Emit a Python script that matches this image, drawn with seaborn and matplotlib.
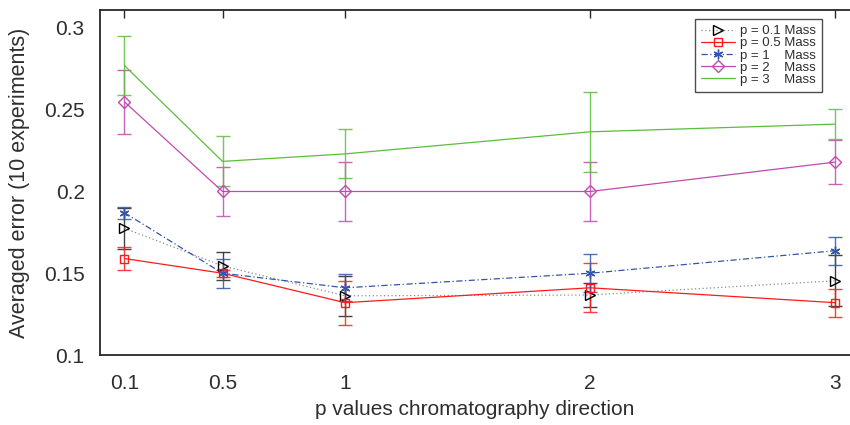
import numpy as np
import pandas as pd
import matplotlib
matplotlib.use("Agg")
import matplotlib.pyplot as plt
import seaborn as sns

# p values along the chromatography direction (x axis)
p_dir = [0.1, 0.5, 1, 2, 3]
x_ticklabels = ["0.1", "0.5", "1", "2", "3"]
y_ticks = [0.1, 0.15, 0.2, 0.25, 0.3]
y_ticklabels = ["0.1", "0.15", "0.2", "0.25", "0.3"]

series_labels = ["p = 0.1 Mass", "p = 0.5 Mass", "p = 1    Mass", "p = 2    Mass", "p = 3    Mass"]

# averaged error (10 experiments) and its spread for each mass p
err_p01 = [0.1775, 0.1545, 0.1362, 0.1367, 0.1454]
spread_p01 = [0.0125, 0.0085, 0.0124, 0.0072, 0.0155]

err_p05 = [0.1590, 0.1500, 0.1320, 0.1411, 0.1320]
spread_p05 = [0.0072, 0.0020, 0.0135, 0.0150, 0.0085]

err_p1 = [0.1870, 0.1500, 0.1411, 0.1500, 0.1638]
spread_p1 = [0.0037, 0.0090, 0.0082, 0.0117, 0.0085]

err_p2 = [0.2548, 0.2000, 0.2000, 0.2000, 0.2180]
spread_p2 = [0.0197, 0.0152, 0.0180, 0.0183, 0.0137]

err_p3 = [0.2770, 0.2184, 0.2230, 0.2365, 0.2412]
spread_p3 = [0.0182, 0.0153, 0.0150, 0.0245, 0.0090]

means = [err_p01, err_p05, err_p1, err_p2, err_p3]
spreads = [spread_p01, spread_p05, spread_p1, spread_p2, spread_p3]

colors = ["#000000", "#ff1a1a", "#3355aa", "#c04aae", "#5cbd3c"]
line_colors = ["#8c8c8c", "#ff1a1a", "#3355aa", "#c04aae", "#5cbd3c"]
markers = [">", "s", (6, 2, 0), "D", None]
dashes = [(1, 2), "", (5, 2, 1, 2), "", ""]
msizes = [7, 6, 7, 6, 0]

rows = []
for lab, m in zip(series_labels, means):
    for xv, yv in zip(p_dir, m):
        rows.append({"p": xv, "err": yv, "series": lab})
df = pd.DataFrame(rows)

sns.set_theme(style="white")
plt.rcParams["font.family"] = ["Liberation Sans", "DejaVu Sans"]

text_color = "#2e2e2e"

fig = plt.figure(figsize=(8.5, 4.25), dpi=100)
ax = fig.add_axes([0.1176, 0.1647, 0.8824, 0.8118])

for i, lab in enumerate(series_labels):
    sub = df[df["series"] == lab]
    # error bars in the series colour
    ax.errorbar(p_dir, means[i], yerr=spreads[i], fmt="none",
                ecolor=colors[i] if i != 0 else "#222222", elinewidth=1.0,
                capsize=5, capthick=1.0, alpha=0.85, zorder=2)
    sns.lineplot(data=sub, x="p", y="err", ax=ax, color=line_colors[i],
                 linewidth=0.9, label=lab, zorder=3, legend=False)
    line = ax.lines[-1]
    if dashes[i]:
        line.set_dashes(dashes[i])
    if markers[i] is not None:
        line.set_marker(markers[i])
        line.set_markersize(msizes[i])
        line.set_markerfacecolor("none")
        line.set_markeredgecolor(colors[i])
        line.set_markeredgewidth(1.0)

ax.set_xlim(0.0, 3.06)
ax.set_ylim(0.1, 0.311)
ax.set_xticks(p_dir)
ax.set_xticklabels(x_ticklabels)
ax.set_yticks(y_ticks)
ax.set_yticklabels(y_ticklabels)
ax.tick_params(axis="both", direction="in", length=6, width=1.0,
               labelsize=15, colors="#262626", labelcolor=text_color,
               top=True, right=False)
ax.tick_params(axis="x", pad=14)
ax.tick_params(axis="y", pad=11)

for side in ["left", "bottom", "top"]:
    ax.spines[side].set_color("#262626")
    ax.spines[side].set_linewidth(1.3)
ax.spines["right"].set_visible(False)

ax.set_xlabel("p values chromatography direction", fontsize=15, color=text_color, labelpad=5)
ax.set_ylabel("Averaged error (10 experiments)", fontsize=15.5, color=text_color, labelpad=10)

handles = [l for l in ax.lines if l.get_label() in series_labels]
leg = ax.legend(handles=handles, labels=series_labels, loc="upper right",
                bbox_to_anchor=(0.9627, 0.974), fontsize=9.5, frameon=True,
                fancybox=False, edgecolor="#222222", handlelength=2.6,
                handletextpad=0.4, labelspacing=0.0, borderpad=0.45,
                borderaxespad=0.0)
leg.get_frame().set_linewidth(1.0)
for t in leg.get_texts():
    t.set_color(text_color)

fig.savefig("out.png", dpi=100)
